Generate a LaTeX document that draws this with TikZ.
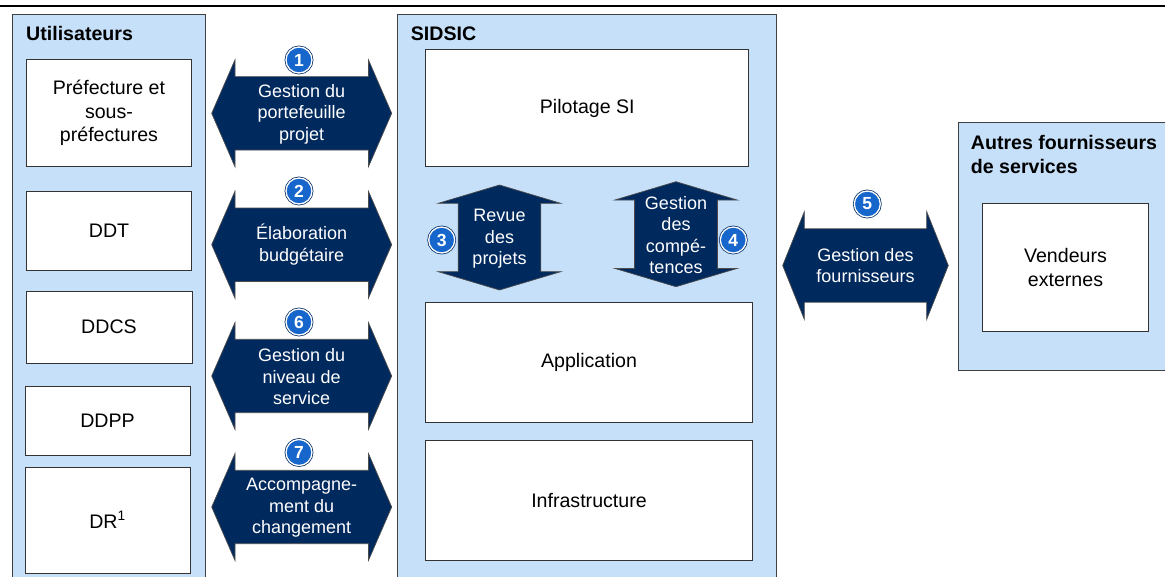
\documentclass[tikz,border=0pt]{standalone}
\usepackage{fontspec}
\setmainfont{Liberation Sans}
\definecolor{panelblue}{RGB}{198,224,250}
\definecolor{arrownavy}{RGB}{0,41,94}
\definecolor{numblue}{RGB}{22,102,204}
\begin{document}
\begin{tikzpicture}[x=1pt,y=-1pt, line join=miter,
  panel/.style={draw=black!75, fill=panelblue, line width=1pt},
  box/.style={draw=black!80, fill=white, line width=1pt, align=center, inner sep=0pt, font=\fontsize{19.6}{23.5}\selectfont},
  title/.style={font=\fontsize{19.6}{23.3}\selectfont\bfseries, inner sep=0pt, align=left},
  arrowbody/.style={fill=arrownavy, draw=black!70, line width=0.7pt},
  arrowtext/.style={text=white, align=center, inner sep=0pt, font=\fontsize{18}{21.5}\selectfont},
  num/.style={circle, fill=numblue, draw=white, line width=1.3pt, preaction={draw=arrownavy, line width=2.8pt}, text=white, inner sep=0pt, minimum size=26, font=\fontsize{17.5}{17.5}\selectfont\bfseries},
  pics/dblarrow/.style n args={4}{code={
    \draw[arrowbody] (-#1,0) -- (-#1+#2,-#4) -- (-#1+#2,-#3) -- (#1-#2,-#3) -- (#1-#2,-#4) -- (#1,0)
      -- (#1-#2,#4) -- (#1-#2,#3) -- (-#1+#2,#3) -- (-#1+#2,#4) -- cycle;}}]
\def\ax{301.7} % milieu des fleches de gauche
\useasboundingbox (0,0) rectangle (1165,576);
\draw[line width=2pt] (0,5.5) -- (1165,5.5);
% cadres
\draw[panel] (12.7,14.7) rectangle (205.7,590);
\draw[panel] (397.3,14.7) rectangle (776,590);
\draw[panel] (958.3,122.7) rectangle (1175,370.7);
\node[title, anchor=base west] (util) at (26,40.7) {Utilisateurs};
\node[title, anchor=base west] (sidsic) at (410.7,40.7) {SIDSIC};
\node[title, anchor=north west] (autres) at (970.7,135.5) {Autres fournisseurs\\de services};
% boites
\node[box, minimum width=165.4, minimum height=106.7] (pref) at (109,113.3) {Préfecture et\\sous-\\préfectures};
\node[box, minimum width=165.4, minimum height=79] (ddt) at (109,230.5) {DDT};
\node[box, minimum width=166, minimum height=72] (ddcs) at (109,327) {DDCS};
\node[box, minimum width=165, minimum height=69] (ddpp) at (107.5,420.5) {DDPP};
\node[box, minimum width=165, minimum height=106] (dr) at (107.5,520) {DR\textsuperscript{1}};
\node[box, minimum width=323.3, minimum height=116.7] (pilot) at (587.3,108.3) {Pilotage SI};
\node[box, minimum width=326.6, minimum height=120] (appli) at (589,362.7) {Application};
\node[box, minimum width=326.6, minimum height=120] (infra) at (589,500) {Infrastructure};
\node[box, minimum width=165.6, minimum height=128.4] (vend) at (1065.5,267.5) {Vendeurs\\externes};
% fleches
\foreach \yc in {113.3,244.7,376,507}
  \pic at (\ax,\yc) {dblarrow={90}{23.3}{36.7}{53.5}};
\pic at (865.5,265.5) {dblarrow={82.8}{21.6}{36.7}{53.8}};
\pic[rotate=90] at (499.5,237.5) {dblarrow={52.5}{18.3}{41.3}{61.2}};
\pic[rotate=90] at (676,234.2) {dblarrow={52.5}{18.3}{41.5}{61.2}};
\node[arrowtext] (t1) at (\ax,114) {Gestion du\\portefeuille\\projet};
\node[arrowtext] (t2) at (\ax,244.7) {Élaboration\\budgétaire};
\node[arrowtext] (t6) at (\ax,377) {Gestion du\\niveau de\\service};
\node[arrowtext] (t7) at (\ax,508) {Accompagne-\\ment du\\changement};
\node[arrowtext] (t5) at (865.5,265.8) {Gestion des\\fournisseurs};
\node[arrowtext] (t3) at (499.5,238.8) {Revue\\des\\projets};
\node[arrowtext] (t4) at (676,235.2) {Gestion\\des\\compé-\\tences};
% numeros
\node[num] (n1) at (299,60) {1};
\node[num] (n2) at (299,191) {2};
\node[num] (n3) at (441.7,240) {3};
\node[num] (n4) at (733.3,240) {4};
\node[num] (n5) at (867.3,204) {5};
\node[num] (n6) at (299,322) {6};
\node[num] (n7) at (299,452.5) {7};
\end{tikzpicture}
\end{document}
